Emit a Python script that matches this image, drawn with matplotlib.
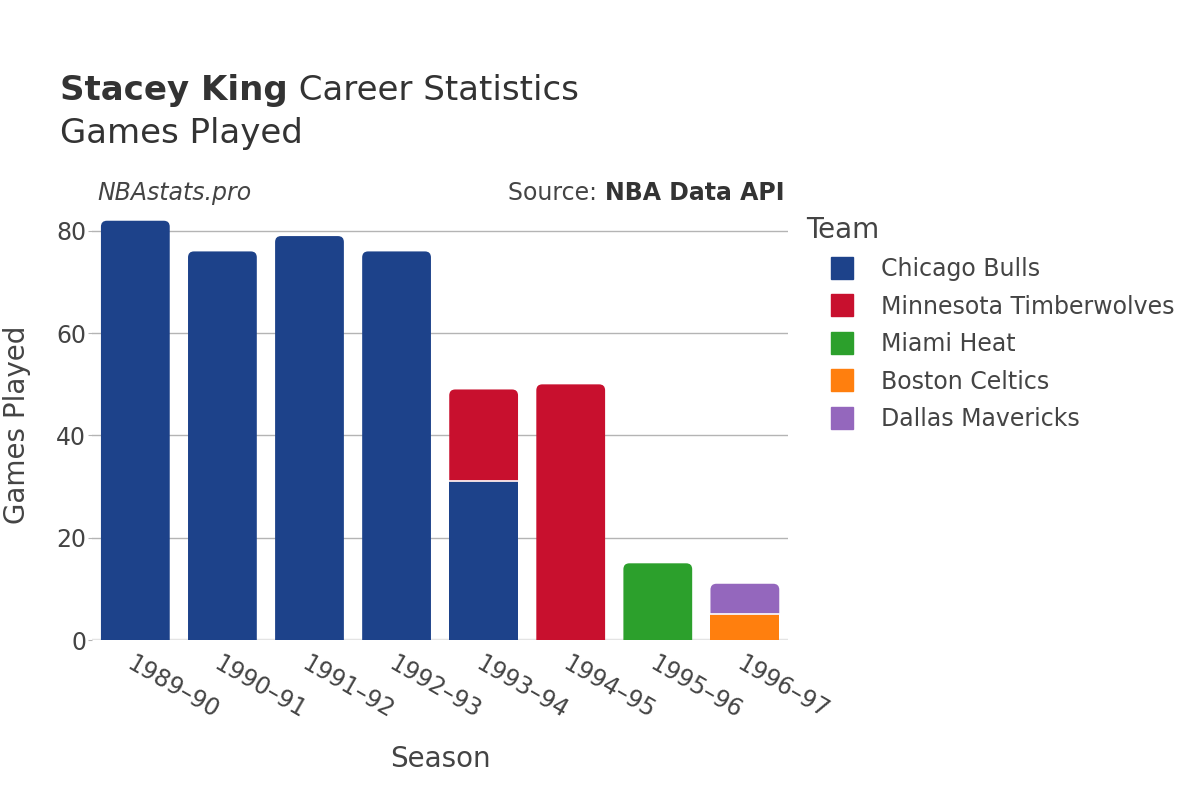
import matplotlib.pyplot as plt
from matplotlib.patches import PathPatch
from matplotlib.path import Path
from matplotlib.lines import Line2D

seasons = ["1989–90", "1990–91", "1991–92", "1992–93", "1993–94", "1994–95", "1995–96", "1996–97"]
teams = ["Chicago Bulls", "Minnesota Timberwolves", "Miami Heat", "Boston Celtics", "Dallas Mavericks"]
colors = ["#1d428a", "#c8102e", "#2ca02c", "#ff7f0e", "#9467bd"]

# games per team per season (stack order follows teams list)
bulls = [82, 76, 79, 76, 31, 0, 0, 0]
wolves = [0, 0, 0, 0, 18, 50, 0, 0]
heat = [0, 0, 0, 0, 0, 0, 15, 0]
celtics = [0, 0, 0, 0, 0, 0, 0, 5]
mavs = [0, 0, 0, 0, 0, 0, 0, 6]
games = [bulls, wolves, heat, celtics, mavs]

fig = plt.figure(figsize=(12, 8), dpi=100)
ax = fig.add_axes([0.0765, 0.2, 0.5805, 0.5375])

ymax = 84.1
ax.set_xlim(-0.5, len(seasons) - 0.5)
ax.set_ylim(0, ymax)

# pixels per data unit, used for the corner radius
ppx = 697 / len(seasons)
ppy = 430 / ymax
rx, ry = 6 / ppx, 6 / ppy
width = 0.79


def top_rounded(x0, y0, w, h):
    x1, y1 = x0 + w, y0 + h
    verts = [(x0, y0), (x0, y1 - ry), (x0, y1), (x0 + rx, y1),
             (x1 - rx, y1), (x1, y1), (x1, y1 - ry), (x1, y0), (x0, y0)]
    codes = [Path.MOVETO, Path.LINETO, Path.CURVE3, Path.CURVE3,
             Path.LINETO, Path.CURVE3, Path.CURVE3, Path.LINETO, Path.CLOSEPOLY]
    return Path(verts, codes)


def square(x0, y0, w, h):
    return Path([(x0, y0), (x0, y0 + h), (x0 + w, y0 + h), (x0 + w, y0), (x0, y0)],
                [Path.MOVETO, Path.LINETO, Path.LINETO, Path.LINETO, Path.CLOSEPOLY])


totals = [sum(g[i] for g in games) for i in range(len(seasons))]
for i in range(len(seasons)):
    bottom = 0
    for t, g in enumerate(games):
        v = g[i]
        if v <= 0:
            continue
        x0 = i - width / 2
        top = bottom + v
        path = top_rounded(x0, bottom, width, v) if top == totals[i] else square(x0, bottom, width, v)
        ax.add_patch(PathPatch(path, facecolor=colors[t], edgecolor="none", zorder=3))
        if bottom > 0:
            ax.plot([x0, x0 + width], [bottom, bottom], color="white", lw=1.2, zorder=4)
        bottom = top

ax.set_yticks([0, 20, 40, 60, 80])
ax.yaxis.grid(True, color="#b4b4b4", lw=1)
ax.set_axisbelow(True)
ax.axhline(0, color="#e4e4e4", lw=2.5, zorder=2)
for s in ax.spines.values():
    s.set_visible(False)
ax.tick_params(axis="y", length=3, color="#b4b4b4", labelsize=17, labelcolor="#444444", pad=1)
ax.tick_params(axis="x", length=0, labelsize=17, labelcolor="#444444", pad=8)
ax.set_xticks(range(len(seasons)))
ax.set_xticklabels(seasons, rotation=-30, ha="left", rotation_mode="anchor")

ax.set_xlabel("Season", fontsize=20, color="#444444", labelpad=16)
ax.set_ylabel("Games Played", fontsize=20, color="#444444", labelpad=18)

# title with mixed weights
fig.canvas.draw()
r = fig.canvas.get_renderer()
t1 = fig.text(0.05, 0.875, "Stacey King", fontsize=24.5, fontweight="bold", color="#333333")
bb = t1.get_window_extent(r)
fig.text(bb.x1 / 1200, 0.875, " Career Statistics", fontsize=24.5, color="#333333")
fig.text(0.05, 0.821, "Games Played", fontsize=24.5, color="#333333")
fig.text(0.081, 0.75, "NBAstats.pro", fontsize=17, style="italic", color="#444444")
t2 = fig.text(0.6535, 0.75, "NBA Data API", fontsize=17, fontweight="bold", color="#333333", ha="right")
bb2 = t2.get_window_extent(r)
fig.text(bb2.x0 / 1200, 0.75, "Source: ", fontsize=17, color="#444444", ha="right")

handles = [Line2D([0], [0], marker="s", ls="none", markersize=16, markerfacecolor=c,
                  markeredgecolor=c) for c in colors]
leg = fig.legend(handles, teams, loc="upper left", bbox_to_anchor=(0.664, 0.742),
                 frameon=False, fontsize=17, title="Team", title_fontsize=20,
                 labelspacing=0.57, handletextpad=0.15, borderaxespad=0, handlelength=3.02)
leg._legend_box.align = "left"
for t in leg.get_texts():
    t.set_color("#444444")
leg.get_title().set_color("#444444")

fig.savefig("out.png", dpi=100)
